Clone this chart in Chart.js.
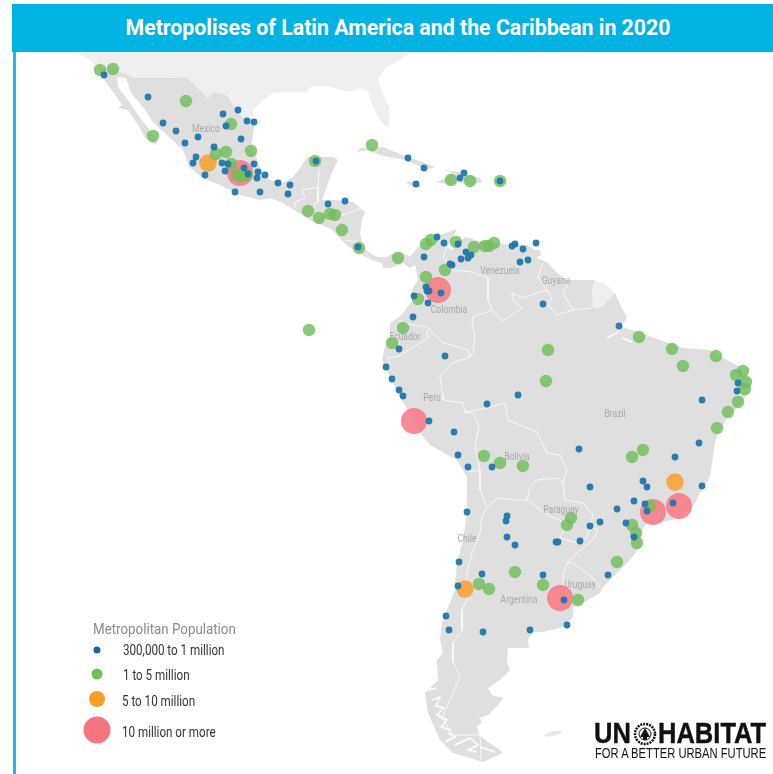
<!DOCTYPE html>
<html lang="en">
<head>
  <meta charset="UTF-8">
  <title>Metropolises of Latin America and the Caribbean in 2020</title>
  <script src="https://cdn.jsdelivr.net/npm/chart.js"></script>
  <style>
    body { margin: 0; background: #fff; font-family: Roboto, Arial, sans-serif; }
    #page { position: relative; width: 773px; height: 774px; overflow: hidden; }
    #map { position: absolute; left: 0; top: 0; }
    #banner {
      position: absolute; left: 12px; top: 4px; width: 761px; height: 48px;
      background: #00b3e3; color: #fff; font-weight: 700; font-size: 21.3px;
      line-height: 47px; text-align: center; box-sizing: border-box; padding-left: 11px;
    }
    #rule { position: absolute; left: 13px; top: 52px; width: 3px; height: 722px; background: #14bdea; }
    .lg { position: absolute; font-family: Roboto, sans-serif; font-size: 14px; color: #333; white-space: nowrap; transform: translateY(-50%) scaleX(.83); transform-origin: left center; }
    .lgTitle { color: #8a8a8a; font-size: 14.5px; transform: translateY(-50%) scaleX(.92); }
    .dot { position: absolute; border-radius: 50%; transform: translate(-50%, -50%); }
    #logo { position: absolute; left: 594px; top: 719px; width: 175px; height: 42px; color: #111; }
    #logo .big { position: absolute; top: 0; font: 700 29px/28px "Liberation Sans", Arial, sans-serif; transform: scaleX(.88); transform-origin: left center; -webkit-text-stroke: .4px #111; }
    #logo .small { position: absolute; left: 1px; top: 27px; font: 400 14px/14px "Liberation Sans", Arial, sans-serif; white-space: nowrap; transform: scaleX(.8); transform-origin: left center; }
    #logo svg { position: absolute; left: 36px; top: 3px; }
  </style>
</head>
<body>
<div id="page">
  <canvas id="map" width="773" height="774"></canvas>
  <div id="banner">Metropolises of Latin America and the Caribbean in 2020</div>
  <div id="rule"></div>

  <div class="lg lgTitle" style="left:93px;top:629px">Metropolitan Population</div>
  <div class="dot" style="left:97px;top:650px;width:7px;height:7px;background:#14659c"></div>
  <div class="lg" style="left:123px;top:650px">300,000 to 1 million</div>
  <div class="dot" style="left:97px;top:674px;width:11px;height:11px;background:#70bf57"></div>
  <div class="lg" style="left:123px;top:675px">1 to 5 million</div>
  <div class="dot" style="left:97px;top:699px;width:16px;height:16px;background:#f99d27"></div>
  <div class="lg" style="left:122px;top:701px">5 to 10 million</div>
  <div class="dot" style="left:97px;top:730px;width:27px;height:27px;background:#f6757f"></div>
  <div class="lg" style="left:122px;top:732px">10 million or more</div>

  <div id="logo">
    <div class="big" style="left:0">UN</div>
    <svg width="30" height="24" viewBox="0 0 30 24">
      <circle cx="15" cy="12" r="10" fill="none" stroke="#111" stroke-width="2.5" stroke-dasharray="2 1"/>
      <circle cx="15" cy="12" r="6" fill="none" stroke="#111" stroke-width="1"/>
      <path d="M15 6 L20 15 H10 Z M13 15 V18 H17 V15" fill="#111"/>
    </svg>
    <div class="big" style="left:64px">HABITAT</div>
    <div class="small">FOR A BETTER URBAN FUTURE</div>
  </div>
</div>

<script>
  // map units are the picture's own x/y
  const cities300k = [[104,75],[148,97],[163,123],[176,131],[185,143],[198,137],[223,114],[238,110],[226,126],[247,121],[254,122],[241,139],
    [214,147],[196,157],[193,163],[205,175],[222,163],[228,164],[225,171],[244,168],[248,174],[254,164],[258,172],[257,178],[265,175],
    [235,192],[260,192],[278,183],[290,185],[288,194],[316,161],[328,204],[345,201],[358,247],
    [408,158],[424,168],[416,184],[464,173],[460,178],[500,181],
    [437,237],[444,243],[458,244],[424,257],[466,252],[471,255],[468,258],[461,259],[450,264],[452,265],[512,246],[515,244],[523,249],[536,243],
    [520,262],[528,260],[426,287],[427,291],[429,291],[441,293],[414,296],[428,303],[413,317],[543,304],[619,326],[399,349],[445,356],
    [386,367],[392,379],[399,390],[403,396],[518,395],[738,383],[737,391],[702,400],[487,404],[429,421],[454,432],[458,455],[468,467],[492,467],
    [699,443],[675,457],[579,449],[590,487],[643,481],[647,487],[702,486],[634,501],[645,504],[647,511],[673,503],[617,509],[626,523],[600,522],
    [590,526],[634,537],[580,541],[556,542],[558,542],[467,512],[507,516],[506,521],[507,537],[515,545],[459,562],[482,574],[543,575],[608,575],
    [458,586],[564,600],[446,616],[449,630],[483,632],[530,630],[567,625]];
  const cities1to5m = [[100,70],[113,69],[186,101],[231,124],[153,136],[372,145],[251,151],[226,152],[216,154],[231,164],[237,175],[247,175],[241,176],
    [315,161],[308,211],[319,218],[330,214],[335,215],[342,230],[359,248],[451,180],[470,181],[500,181],[398,258],[426,244],[431,240],[456,242],
    [474,247],[485,246],[489,246],[494,243],[445,270],[426,277],[418,299],[403,328],[392,343],[309,330],[548,350],[546,381],[639,337],[672,349],
    [683,366],[716,356],[736,375],[743,371],[746,382],[745,389],[738,402],[728,412],[717,428],[484,456],[500,463],[523,466],[643,450],[632,457],
    [650,506],[571,518],[567,525],[632,525],[636,533],[637,543],[617,562],[515,572],[479,584],[489,589],[543,585],[578,600]];
  const cities5to10m = [[208,163],[675,482],[465,589]];
  const cities10m = [[240,173],[438,290],[414,421],[653,512],[679,506],[560,598]];

  const landUsa = [[77,53],[90,60],[98,68],[113,70],[120,72],[137,78],[170,78],[183,77],[187,78],[200,90],[208,98],[213,92],[227,95],[233,105],[243,118],
    [253,117],[253,110],[263,100],[273,93],[283,92],[307,92],[310,87],[327,86],[350,92],[360,88],[368,92],[373,107],[382,123],[387,127],[390,125],
    [389,107],[380,87],[378,78],[387,67],[400,60],[410,53]];
  const landMexicoCentral = [[98,68],[113,70],[120,72],[137,78],[170,78],[183,77],[187,78],[200,90],[208,98],[213,92],[227,95],[233,105],[243,118],[252,118],
    [254,127],[252,143],[257,160],[263,173],[270,180],[283,183],[293,177],[302,165],[308,157],[333,157],[338,160],[330,177],[325,192],[322,200],
    [337,200],[353,202],[365,212],[362,220],[360,233],[363,247],[370,253],[377,257],[387,257],[395,252],[403,253],[412,258],[416,265],
    [410,268],[403,263],[398,265],[390,268],[383,268],[382,263],[372,260],[365,257],[360,252],[352,249],[346,245],[340,238],[332,230],[322,225],
    [310,220],[297,212],[283,203],[270,198],[260,200],[240,195],[220,185],[203,178],[189,167],[183,150],[169,137],[153,122],[143,107],[131,93],[126,78],[120,77],
    [117,77],[118,87],[128,100],[138,115],[148,128],[158,143],[155,145],[145,138],[138,125],[128,110],[118,108],[122,105],[113,92],[103,78]];
  const landSouth = [[407,260],[418,247],[427,240],[440,235],[457,229],[453,237],[447,247],[452,250],[460,242],[465,237],[470,238],[480,242],[497,243],[510,245],[527,245],
    [540,253],[537,258],[548,263],[557,273],[567,280],[593,280],[615,293],[623,310],[627,317],[622,327],[638,332],[660,340],[683,348],[710,350],[727,360],[740,367],
    [748,378],[749,393],[747,395],[738,407],[728,417],[718,433],[715,443],[713,457],[710,477],[700,493],[693,507],[680,518],[663,522],[647,523],[642,530],[640,547],
    [630,560],[617,573],[603,587],[600,593],[583,603],[573,608],[573,617],[563,627],[543,632],[533,632],[528,640],[529,648],[508,648],[507,663],[510,670],[500,680],
    [488,688],[492,695],[503,698],[498,705],[488,715],[479,718],[482,722],[477,727],[479,735],[488,742],[500,750],[503,753],[483,762],[453,753],[440,740],[428,713],
    [425,693],[438,680],[437,660],[443,653],[440,640],[442,623],[448,607],[455,590],[455,583],[457,563],[463,540],[467,513],[467,477],[457,460],[430,445],[420,433],
    [402,400],[390,377],[382,360],[385,347],[390,338],[390,323],[402,315],[407,307],[412,302],[412,290],[418,280],[415,263]];
  const landFrenchGuiana = [[593,283],[603,282],[615,293],[608,300],[602,307],[593,308],[592,293]];
  const landFalklands = [[543,735],[552,731],[563,731],[558,735],[548,737]];
  const landCuba = [[357,152],[360,148],[383,147],[395,152],[410,158],[423,162],[435,167],[425,170],[417,165],[405,160],[380,155],[367,150]];
  const landJamaica = [[405,182],[418,182],[422,187],[413,187]];
  const landHispaniola = [[443,170],[460,172],[468,175],[480,178],[482,182],[472,185],[455,182],[452,185],[435,182],[447,178],[452,172]];
  const landPuertoRico = [[495,180],[506,179],[506,184],[496,184]];
  const landTrinidad = [[533,250],[540,250],[541,256],[535,256]];

  const borders = [
    [[295,208],[295,202],[305,198],[302,190],[318,187],[318,202]],
    [[318,187],[319,170]],
    [[312,213],[315,203],[318,202]],
    [[337,223],[342,215],[363,208]],
    [[345,240],[362,243]],
    [[363,250],[370,259]],
    [[447,247],[443,257],[453,270],[472,272],[488,278],[488,300],[492,310],[503,321],[522,308],[513,300],[512,293],[523,298],[537,293],[547,290],[552,297],[548,305],[557,315],[573,310],[592,308]],
    [[543,263],[538,277],[547,290]],
    [[570,280],[563,293],[573,310]],
    [[492,310],[487,312],[473,317],[472,323],[475,337],[473,352],[470,357]],
    [[398,320],[412,325],[427,327],[443,343],[458,347],[468,350],[470,357],[452,363],[440,377],[443,397],[443,400],[463,403],[465,412],[487,408],[505,403],[508,420],[537,432],[547,453],[560,455],[567,470],[563,482]],
    [[427,330],[428,338],[412,348],[397,357],[388,357],[390,363]],
    [[465,412],[473,413],[479,425],[475,447],[480,470],[468,472]],
    [[480,470],[480,490],[487,507],[498,498],[517,500],[527,500],[530,487],[537,480],[557,478],[563,482],[565,500],[583,503],[593,515],[590,527],[598,530],[593,540],[577,553],[567,563],[573,563],[592,577],[600,587]],
    [[527,500],[547,515],[567,523],[560,538],[577,543],[587,537],[590,527]],
    [[567,563],[563,575],[565,590],[567,597]],
    [[487,507],[482,517],[480,533],[472,553],[467,573],[465,590],[468,598],[462,610],[462,630],[453,643],[453,662],[460,677],[453,693],[442,718],[452,735],[480,735],[481,760]]
  ];
  // white river mouth and the broken southern coast
  const coastCuts = [
    [[607,338],[618,332],[623,323]],
    [[622,338],[632,342]],
    [[432,700],[440,697],[436,706],[444,708],[437,715],[447,720],[441,727],[451,730]],
    [[428,690],[436,688]],
    [[445,742],[455,737],[448,733]],
    [[455,745],[470,738],[478,745],[468,750],[477,752]],
    [[480,747],[495,752]]
  ];

  const countryNames = ['Mexico','Venezuela','Guyana','Colombia','Ecuador','Peru','Brazil','Bolivia','Paraguay','Chile','Uruguay','Argentina'];
  const countrySpots = [[206,129],[500,271],[556,281],[449,310],[405,337],[432,398],[615,414],[517,457],[561,510],[467,539],[580,585],[519,600]];

  function asPoints(list) {
    return list.map(p => ({ x: p[0], y: p[1] }));
  }

  function landSet(list, color) {
    return { data: asPoints(list), showLine: true, fill: 'shape', backgroundColor: color, borderColor: color, borderWidth: 0, pointRadius: 0, tension: 0, order: 10 };
  }

  function lineSet(list, color, width) {
    return { data: asPoints(list), showLine: true, fill: false, borderColor: color, borderWidth: width, pointRadius: 0, tension: 0, order: 8 };
  }

  function citySet(list, color, radius, order) {
    return { data: asPoints(list), showLine: false, backgroundColor: color, borderWidth: 0, pointRadius: radius, pointHoverRadius: radius, order: order };
  }

  const countryLabels = {
    id: 'countryLabels',
    afterDatasetsDraw(chart) {
      const ctx = chart.ctx;
      ctx.save();
      ctx.font = '11px Roboto, sans-serif';
      ctx.fillStyle = '#a9a9a9';
      ctx.textAlign = 'center';
      ctx.textBaseline = 'middle';
      countryNames.forEach((name, i) => {
        const w = ctx.measureText(name).width * 0.78;
        ctx.fillText(name, chart.scales.x.getPixelForValue(countrySpots[i][0]), chart.scales.y.getPixelForValue(countrySpots[i][1]), w);
      });
      ctx.restore();
    }
  };

  const datasets = [
    landSet(landUsa, '#efefef'),
    landSet(landMexicoCentral, '#dfdfdf'),
    landSet(landSouth, '#dfdfdf'),
    landSet(landCuba, '#dfdfdf'),
    landSet(landJamaica, '#dfdfdf'),
    landSet(landHispaniola, '#dfdfdf'),
    landSet(landPuertoRico, '#dfdfdf'),
    landSet(landTrinidad, '#dfdfdf'),
    landSet(landFalklands, '#e8e8e8')
  ];
  borders.forEach(b => datasets.push(lineSet(b, 'rgba(255,255,255,0.85)', 0.9)));
  coastCuts.forEach(c => datasets.push(lineSet(c, '#ffffff', 1.4)));
  const fg = landSet(landFrenchGuiana, '#efefef');
  fg.order = 7;
  datasets.push(fg);
  datasets.push(citySet(cities10m, 'rgba(249,122,133,0.88)', 13, 4));
  datasets.push(citySet(cities5to10m, 'rgba(249,160,50,0.88)', 8.7, 3));
  datasets.push(citySet(cities1to5m, 'rgba(113,190,90,0.82)', 6.2, 2));
  datasets.push(citySet(cities300k, 'rgba(31,120,172,0.95)', 3.4, 1));

  new Chart(document.getElementById('map'), {
    type: 'scatter',
    data: { datasets: datasets },
    options: {
      responsive: false,
      animation: false,
      layout: { padding: 0, autoPadding: false },
      scales: {
        x: { type: 'linear', min: 0, max: 773, display: false },
        y: { type: 'linear', min: 0, max: 774, reverse: true, display: false }
      },
      plugins: { legend: { display: false }, title: { display: false }, tooltip: { enabled: false } }
    },
    plugins: [countryLabels]
  });
</script>
</body>
</html>
